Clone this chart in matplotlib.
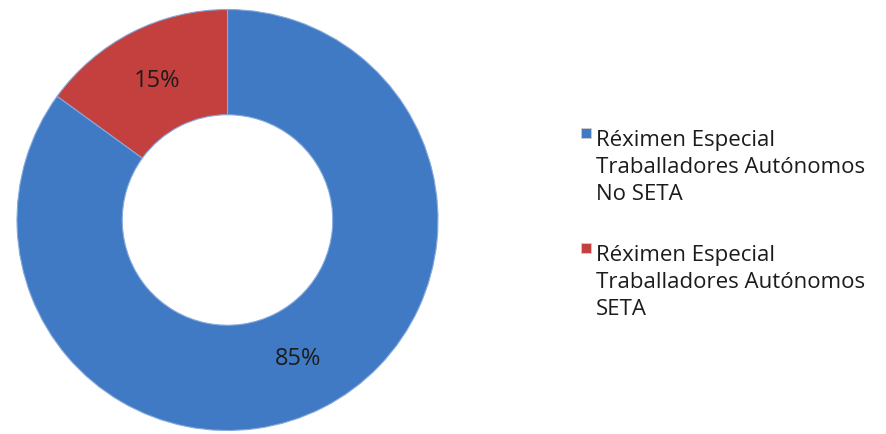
import matplotlib.pyplot as plt
from matplotlib.patches import Rectangle

plt.rcParams['font.family'] = ['Open Sans', 'DejaVu Sans']

# datos
etiquetas = ['Réximen Especial\nTraballadores Autónomos\nNo SETA',
             'Réximen Especial\nTraballadores Autónomos\nSETA']
valores = [85, 15]
cores = ['#4079C4', '#C4403E']

W, H = 887, 434
fig = plt.figure(figsize=(W / 100, H / 100), dpi=100)
ax = fig.add_axes([17 / W, 2 / H, 421 / W, 424 / H])

wedges, texts, autotexts = ax.pie(
    valores, colors=cores, startangle=90, counterclock=False,
    radius=1.0, autopct='%1.0f%%', pctdistance=0.74,
    wedgeprops=dict(width=0.5, edgecolor='#86AADB', linewidth=0.8),
    textprops=dict(fontsize=17, color='#1c1c1c'))
ax.set_xlim(-1, 1)
ax.set_ylim(-1, 1)

# lenda feita a man (cadrado + texto en tres liñas)
for i, (lab, c) in enumerate(zip(etiquetas, cores)):
    y0 = 128 + i * 115
    fig.add_artist(Rectangle((581 / W, 1 - (y0 + 10) / H), 10 / W, 10 / H,
                             transform=fig.transFigure, facecolor=c,
                             edgecolor='#cfcfcf', linewidth=0.6))
    # baseline = última liña
    fig.text(596 / W, 1 - (y0 + 72) / H, lab, fontsize=16, color='#1c1c1c',
             va='baseline', ha='left', linespacing=1.38)

fig.savefig('out.png', dpi=100)
